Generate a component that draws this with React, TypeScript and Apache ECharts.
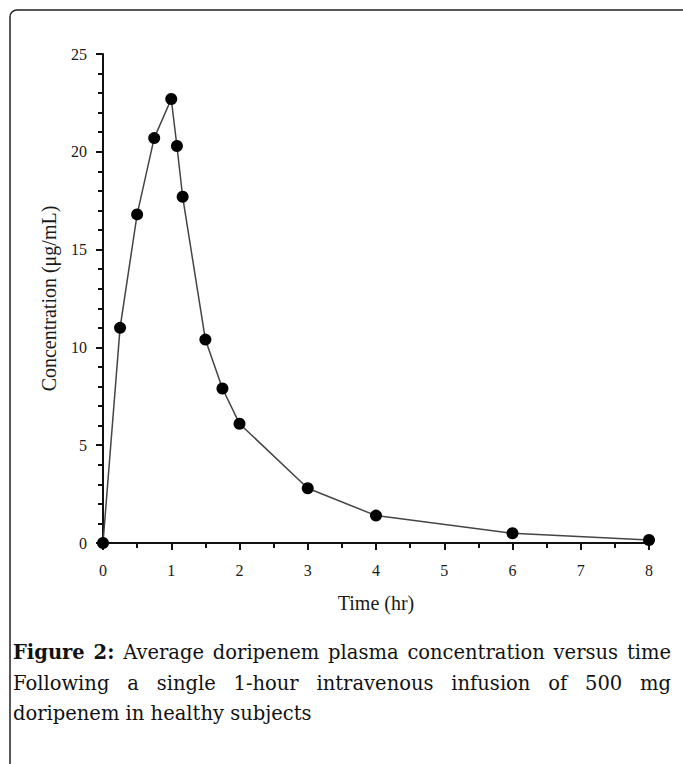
import React, { useEffect, useRef } from "react";
import * as echarts from "echarts";

const timeHr = [0, 0.25, 0.5, 0.75, 1.0, 1.083, 1.167, 1.5, 1.75, 2, 3, 4, 6, 8];
const concentration = [0, 11.0, 16.8, 20.7, 22.7, 20.3, 17.7, 10.4, 7.9, 6.1, 2.8, 1.4, 0.5, 0.15];

const yAxisTitle = "Concentration (μg/mL)";
const xAxisTitle = "Time (hr)";

const captionLines = [
  "Figure 2: Average doripenem plasma concentration versus time",
  "Following a single 1-hour intravenous infusion of 500 mg",
  "doripenem in healthy subjects",
];
const captionBoldWords = 2;

const SERIF = '"Liberation Serif", "Times New Roman", serif';
const CAP_FONT = '"DejaVu Serif", serif';

function buildCaption(): any[] {
  const canvas = document.createElement("canvas");
  const ctx = canvas.getContext("2d") as CanvasRenderingContext2D;
  const size = 19.5;
  const left = 13;
  const right = 671;
  const centers = [652, 683, 713];
  const els: any[] = [];
  captionLines.forEach((line, li) => {
    const words = line.split(" ");
    const bold = (i: number) => li === 0 && i < captionBoldWords;
    const widths = words.map((w, i) => {
      ctx.font = `${bold(i) ? "bold " : ""}${size}px ${CAP_FONT}`;
      return ctx.measureText(w).width;
    });
    ctx.font = `${size}px ${CAP_FONT}`;
    const spaceW = ctx.measureText(" ").width;
    const total = widths.reduce((a, b) => a + b, 0);
    const justify = li < captionLines.length - 1;
    const gap = justify ? (right - left - total) / (words.length - 1) : spaceW;
    let x = left;
    words.forEach((w, i) => {
      els.push({
        type: "text",
        x,
        y: centers[li],
        silent: true,
        style: {
          text: w,
          fontSize: size,
          fontFamily: CAP_FONT,
          fontWeight: bold(i) ? "bold" : "normal",
          fill: "#111",
          align: "left",
          verticalAlign: "middle",
        },
      });
      x += widths[i] + gap;
    });
  });
  return els;
}

export default function App() {
  const ref = useRef<HTMLDivElement>(null);
  useEffect(() => {
    document.body.style.margin = "0";
    if (!ref.current) return;
    const chart = echarts.init(ref.current, undefined, { renderer: "svg" });
    const axisColor = "#111";
    chart.setOption({
      animation: false,
      backgroundColor: "#fff",
      grid: { left: 103, right: 34, top: 54, bottom: 221 },
      xAxis: {
        type: "value",
        min: 0,
        max: 8,
        interval: 1,
        name: xAxisTitle,
        nameLocation: "middle",
        nameGap: 50,
        nameTextStyle: { fontFamily: SERIF, fontSize: 20, color: "#1a1a1a" },
        axisLine: { show: true, lineStyle: { color: axisColor, width: 2 } },
        axisTick: { show: true, length: 7, lineStyle: { color: axisColor, width: 2 } },
        minorTick: { show: true, splitNumber: 2, length: 5, lineStyle: { color: axisColor, width: 2 } },
        splitLine: { show: false },
        axisLabel: { fontFamily: SERIF, fontSize: 16, color: "#1a1a1a", margin: 19 },
      },
      yAxis: {
        type: "value",
        min: 0,
        max: 25,
        interval: 5,
        name: yAxisTitle,
        nameLocation: "middle",
        nameGap: 44,
        nameTextStyle: { fontFamily: SERIF, fontSize: 20, color: "#1a1a1a" },
        axisLine: { show: true, lineStyle: { color: axisColor, width: 2 } },
        axisTick: { show: true, length: 7, lineStyle: { color: axisColor, width: 2 } },
        minorTick: { show: true, splitNumber: 5, length: 5, lineStyle: { color: axisColor, width: 2 } },
        splitLine: { show: false },
        axisLabel: { fontFamily: SERIF, fontSize: 16, color: "#1a1a1a", margin: 16 },
      },
      series: [
        {
          type: "line",
          data: timeHr.map((t, i) => [t, concentration[i]]),
          symbol: "circle",
          symbolSize: 12,
          showAllSymbol: true,
          lineStyle: { color: "#444", width: 1.5 },
          itemStyle: { color: "#000", borderWidth: 0 },
          silent: true,
        },
      ],
      graphic: [
        {
          type: "rect",
          silent: true,
          shape: { x: 10, y: 10, width: 720, height: 800, r: 7 },
          style: { fill: "none", stroke: "#222", lineWidth: 1.5 },
        },
        ...buildCaption(),
      ],
    });
    return () => chart.dispose();
  }, []);
  return <div ref={ref} style={{ width: 683, height: 764 }} />;
}
